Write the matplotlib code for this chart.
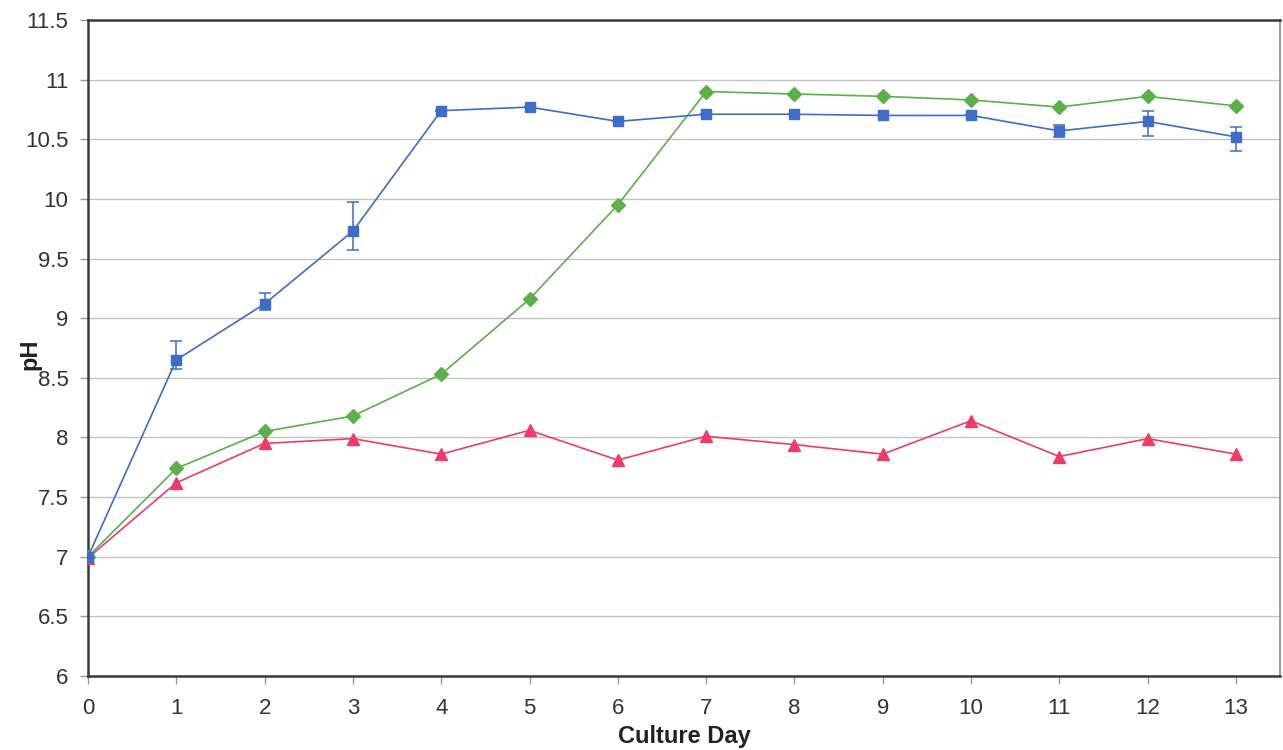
import matplotlib
matplotlib.use("Agg")
from matplotlib import pyplot as plt
import numpy as np

# culture pH readings per day
days = list(range(14))
ph_blue = [7.00, 8.65, 9.12, 9.73, 10.74, 10.77, 10.65, 10.71, 10.71, 10.70, 10.70, 10.57, 10.65, 10.52]
err_blue_lo = [0, 0.08, 0.05, 0.16, 0, 0, 0, 0, 0, 0, 0, 0.05, 0.12, 0.12]
err_blue_hi = [0, 0.16, 0.09, 0.24, 0, 0, 0, 0, 0, 0, 0, 0.05, 0.09, 0.08]
ph_green = [7.00, 7.74, 8.05, 8.18, 8.53, 9.16, 9.95, 10.90, 10.88, 10.86, 10.83, 10.77, 10.86, 10.78]
ph_red = [6.99, 7.62, 7.95, 7.99, 7.86, 8.06, 7.81, 8.01, 7.94, 7.86, 8.14, 7.84, 7.99, 7.86]

yticks = np.arange(6, 11.51, 0.5)
ytick_labels = ["6", "6.5", "7", "7.5", "8", "8.5", "9", "9.5", "10", "10.5", "11", "11.5"]

plt.rcParams['font.family'] = ['Liberation Sans', 'DejaVu Sans']

fig = plt.figure(figsize=(12.83, 7.5), dpi=100)
ax = fig.add_axes([0.0686, 0.0987, 0.9291, 0.8746])

blue = '#3D6CC9'
green = '#5CB04A'
red = '#EE3C68'

ax.plot(days, ph_green, color=green, lw=1.2, marker='D', ms=7, mec=green, zorder=3)
ax.plot(days, ph_red, color=red, lw=1.2, marker='^', ms=9, mec=red, zorder=3)
ax.errorbar(days, ph_blue, yerr=[err_blue_lo, err_blue_hi], color=blue, lw=1.2,
			marker='s', ms=7, mec=blue, ecolor=blue, elinewidth=1.1, capsize=4,
			capthick=1.1, zorder=4)

ax.set_xlim(0, 13.5)
ax.set_ylim(6, 11.5)
ax.set_xticks(days)
ax.set_xticklabels([str(d) for d in days], fontsize=16, color='#333333')
ax.set_yticks(yticks)
ax.set_yticklabels(ytick_labels, fontsize=16, color='#333333')
ax.tick_params(axis='both', direction='out', length=6, width=1, color='#999999')
ax.tick_params(axis='x', pad=10)
ax.tick_params(axis='y', pad=8)

ax.grid(axis='y', color='#C4C4C4', lw=1)
ax.set_axisbelow(True)

for side in ['left', 'bottom', 'top']:
	ax.spines[side].set_color('#3A3A3A')
	ax.spines[side].set_linewidth(1.8)
ax.spines['right'].set_color('#8A8A8A')
ax.spines['right'].set_linewidth(1.2)

narrow = ['Liberation Sans Narrow', 'Liberation Sans', 'DejaVu Sans']
ax.set_xlabel('Culture Day', fontsize=17, fontweight='bold', family=narrow,
			  color='#222222', va='center')
ax.xaxis.set_label_coords(0.5, -0.092)
ax.set_ylabel('pH', fontsize=17, fontweight='bold', family=narrow,
			  color='#222222', va='center')
ax.yaxis.set_label_coords(-0.049, 0.49)

plt.savefig('out.png', dpi=100)
